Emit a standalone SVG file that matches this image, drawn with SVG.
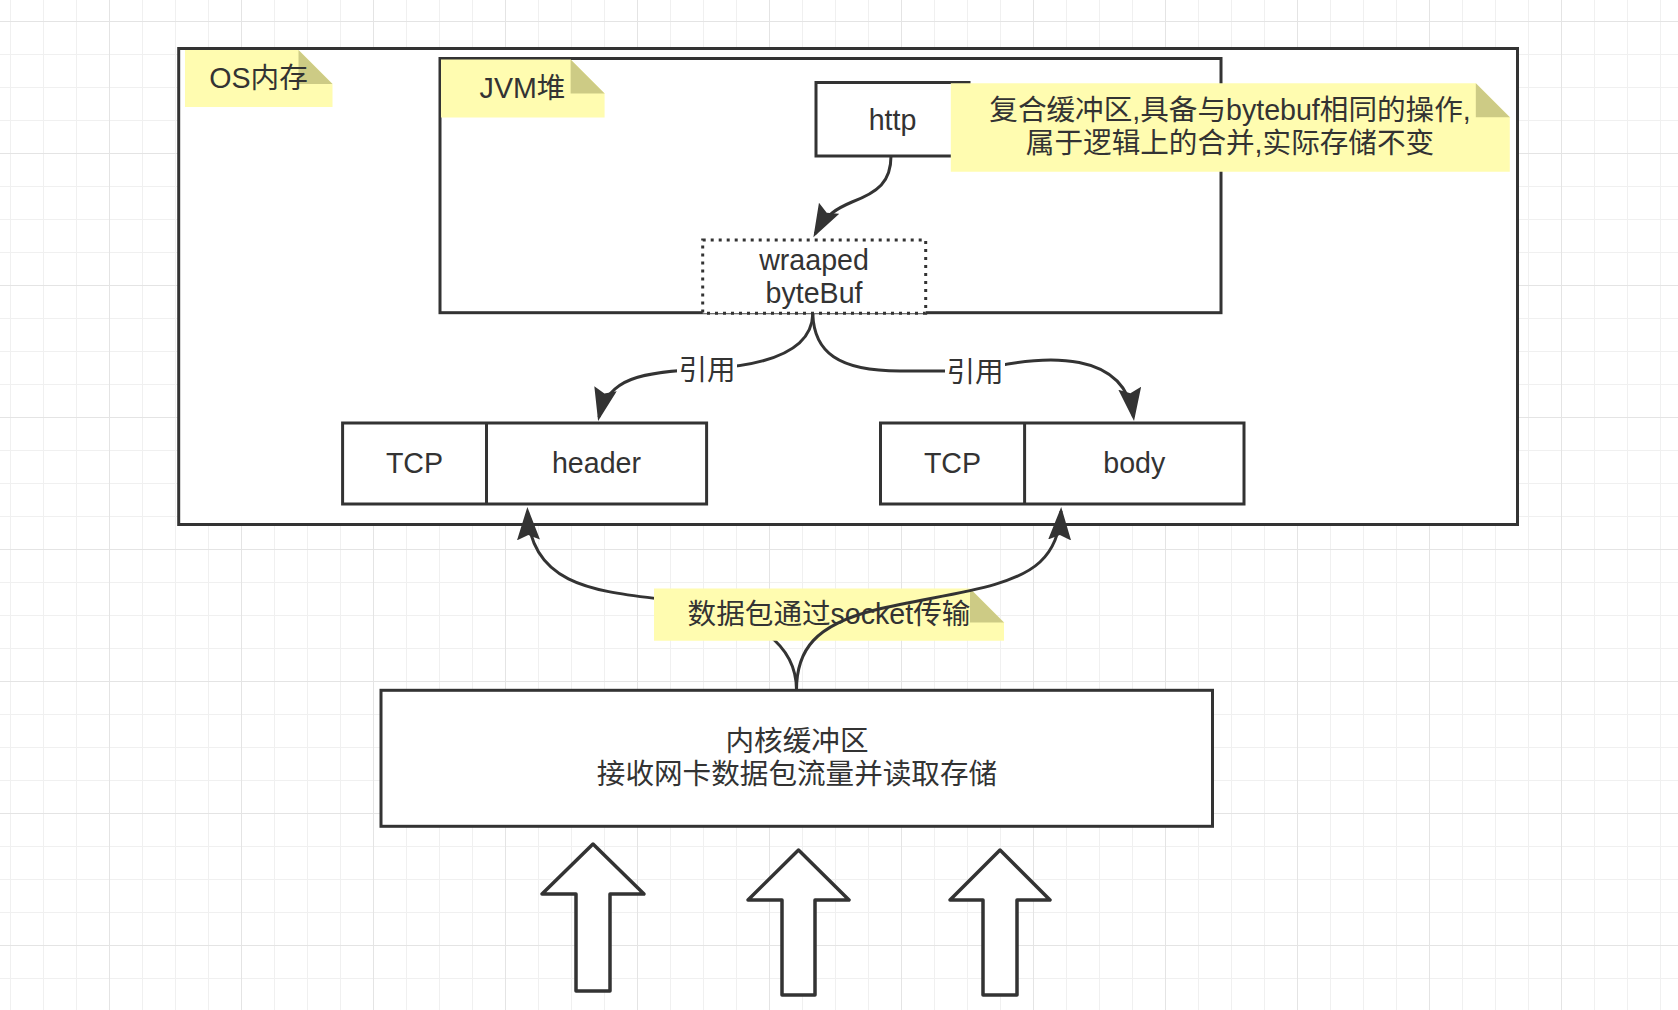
<svg xmlns="http://www.w3.org/2000/svg" width="1678" height="1010" viewBox="0 0 1678 1010">
<style>
.box{fill:#ffffff;stroke:#333333;stroke-width:3}
.dot{fill:#ffffff;stroke:#333333;stroke-width:3;stroke-dasharray:3 5}
.big{fill:#ffffff;stroke:#333333;stroke-width:3.5;stroke-linejoin:round}
.note{fill:#fffcb0}
.fold{fill:#cdcb85}
.edge{fill:none;stroke:#333333;stroke-width:3}
.lbl{fill:#ffffff}
text{font-family:"Liberation Sans","Noto Sans CJK SC",sans-serif;font-size:28.6px;fill:#333333;text-anchor:middle}
</style>
<defs>
<pattern id="minor" patternUnits="userSpaceOnUse" x="10" y="21" width="33" height="33">
<path d="M0 0.5H33M0.5 0V33" stroke="#f0f0f0" stroke-width="1" fill="none"/>
</pattern>
<pattern id="major" patternUnits="userSpaceOnUse" x="109" y="21" width="132" height="132">
<path d="M0 0.5H132M0.5 0V132" stroke="#e4e4e4" stroke-width="1" fill="none"/>
</pattern>
<marker id="arr" markerUnits="userSpaceOnUse" markerWidth="36" markerHeight="26" viewBox="0 0 36 26" refX="29" refY="11.5" orient="auto">
<path d="M0,0 L33,11.5 L0,23 L5,11.5 Z" fill="#333333"/>
</marker>
</defs>
<rect width="1678" height="1010" fill="#ffffff"/>
<rect width="1678" height="1010" fill="url(#minor)"/>
<rect width="1678" height="1010" fill="url(#major)"/>

<g id="os-memory">
<rect class="box" x="178.7" y="48.5" width="1338.8" height="476"/>
</g>
<g id="os-note">
<path class="note" d="M185 50H298.5L332.5 84V107H185Z"/>
<path class="fold" d="M298.5 50V84H332.5Z"/>
<text x="258.5" y="88">OS内存</text>
</g>
<g id="jvm-heap">
<rect class="box" x="440" y="58.5" width="781" height="254.2"/>
</g>
<g id="jvm-note">
<path class="note" d="M441 59.5H570.6L604.6 93.5V117.5H441Z"/>
<path class="fold" d="M570.6 59.5V93.5H604.6Z"/>
<text x="522.5" y="97.5">JVM堆</text>
</g>
<g id="http">
<rect class="box" x="816" y="82.5" width="153" height="73.5"/>
<text x="892.5" y="129.5">http</text>
</g>
<g id="composite-note">
<path class="note" d="M950.8 83.3H1475.8L1509.8 117.3V171.7H950.8Z"/>
<path class="fold" d="M1475.8 83.3V117.3H1509.8Z"/>
<text x="1230" y="120">复合缓冲区,具备与bytebuf相同的操作,</text>
<text x="1230" y="153.3">属于逻辑上的合并,实际存储不变</text>
</g>
<g id="wrapped-bytebuf">
<rect class="dot" x="702.7" y="240" width="223" height="73.3"/>
<text x="814" y="270">wraaped</text>
<text x="814" y="303.3">byteBuf</text>
</g>
<g id="tcp-header">
<rect class="box" x="342.6" y="423" width="364" height="81"/>
<line class="box" x1="486.5" y1="423" x2="486.5" y2="504"/>
<text x="414.5" y="473.3">TCP</text>
<text x="596.5" y="473.3">header</text>
</g>
<g id="tcp-body">
<rect class="box" x="880.5" y="423" width="363.5" height="81"/>
<line class="box" x1="1024.6" y1="423" x2="1024.6" y2="504"/>
<text x="952.5" y="473.3">TCP</text>
<text x="1134.3" y="473.3">body</text>
</g>
<g id="kernel-buffer">
<rect class="box" x="381" y="690.3" width="831.5" height="136"/>
<text x="797" y="750.6">内核缓冲区</text>
<text x="797" y="783.8">接收网卡数据包流量并读取存储</text>
</g>
<g id="input-arrow-1">
<path class="big" d="M593 844L644 894H610V991H576V894H542Z"/>
</g>
<g id="input-arrow-2">
<path class="big" d="M798.5 850L849 900H815V995H782V900H748Z"/>
</g>
<g id="input-arrow-3">
<path class="big" d="M1000 850L1050 900H1017V995H983V900H950Z"/>
</g>

<g id="connectors">
<path class="edge" marker-end="url(#arr)" d="M891 156C891 182 878 192 852 202C838 208 826 214 815.3 233.8"/>
<path class="edge" marker-end="url(#arr)" d="M812.8 314C812 345 780 365 706 369C640 372 608 378 599 417"/>
<rect class="lbl" x="677" y="354" width="60" height="32"/>
<text x="707" y="380">引用</text>
<path class="edge" marker-end="url(#arr)" d="M812.8 314C814 352 838 371 900 371L975 371C1050 352 1125 352 1133.5 417"/>
<rect class="lbl" x="945" y="356" width="60" height="32"/>
<text x="975" y="381.7">引用</text>
<path class="edge" marker-end="url(#arr)" d="M796.5 690C796.5 650 765 612 660 599C595 591 530 585 527.5 511"/>
</g>
<g id="socket-note">
<path class="note" d="M654 588.6H970L1004 622.6V640.7H654Z"/>
<path class="fold" d="M970 588.6V622.6H1004Z"/>
<text x="829" y="623.5">数据包通过socket传输</text>
</g>
<g id="connectors-top">
<path class="edge" marker-end="url(#arr)" d="M796.5 690C796.5 650 815 625 875 610C940 594 1010 590 1040 562C1054 549 1060 532 1061 511"/>
</g>
</svg>
